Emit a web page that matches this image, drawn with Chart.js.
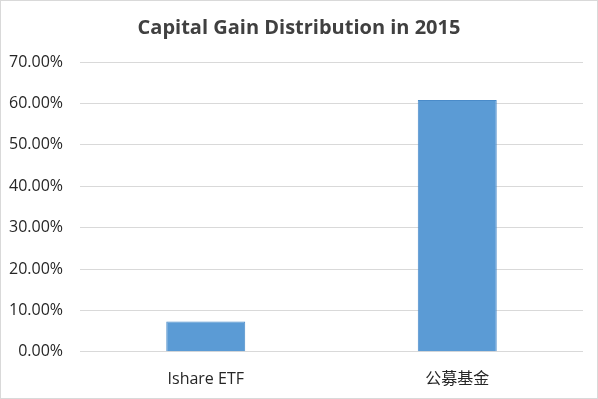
<!DOCTYPE html>
<html>
<head>
<meta charset="utf-8">
<script src="https://cdn.jsdelivr.net/npm/chart.js@4"></script>
<style>
  body { margin: 0; background: #fff; }
  #wrap { width: 598px; height: 399px; }
</style>
</head>
<body>
<div id="wrap"><canvas id="chart" width="598" height="399"></canvas></div>
<script>
const categories = ["Ishare ETF", "公募基金"];
const gainShare = [7.3, 60.8];
const yTicks = [0, 10, 20, 30, 40, 50, 60, 70];
const chartTitle = "Capital Gain Distribution in 2015";

const FONT = "'Open Sans', 'Noto Sans CJK SC', sans-serif";

// frame around the whole chart plus a title centred on the canvas
const frame = {
  id: "frame",
  afterDraw(chart) {
    const ctx = chart.ctx;
    ctx.save();
    ctx.strokeStyle = "#d9d9d9";
    ctx.lineWidth = 1;
    ctx.strokeRect(0.5, 0.5, chart.width - 1, chart.height - 1);
    ctx.fillStyle = "#404040";
    ctx.font = "bold 20px " + FONT;
    ctx.textAlign = "center";
    ctx.textBaseline = "middle";
    ctx.fillText(chartTitle, chart.width / 2, 28);
    ctx.restore();
  }
};

new Chart(document.getElementById("chart"), {
  type: "bar",
  data: {
    labels: categories,
    datasets: [{
      data: gainShare,
      backgroundColor: "#5b9bd5",
      borderColor: "#4a8bc9",
      borderWidth: 1,
      categoryPercentage: 1,
      barPercentage: 0.314
    }]
  },
  options: {
    responsive: false,
    animation: false,
    layout: { padding: { top: 62, right: 15, bottom: 0, left: 0 } },
    plugins: {
      legend: { display: false },
      tooltip: { enabled: false },
      title: { display: false }
    },
    scales: {
      x: {
        grid: { display: false },
        border: { display: false },
        ticks: { color: "#262626", font: { family: FONT, size: 16 }, padding: 10 }
      },
      y: {
        min: 0,
        max: 70,
        afterBuildTicks(scale) {
          scale.ticks = yTicks.map((v) => ({ value: v }));
        },
        afterFit(scale) { scale.width = 80; },
        grid: { color: "#d9d9d9", drawTicks: false },
        border: { display: false },
        ticks: {
          color: "#262626",
          font: { family: FONT, size: 16 },
          padding: 17,
          callback: (v) => v.toFixed(2) + "%"
        }
      }
    }
  },
  plugins: [frame]
});
</script>
</body>
</html>
